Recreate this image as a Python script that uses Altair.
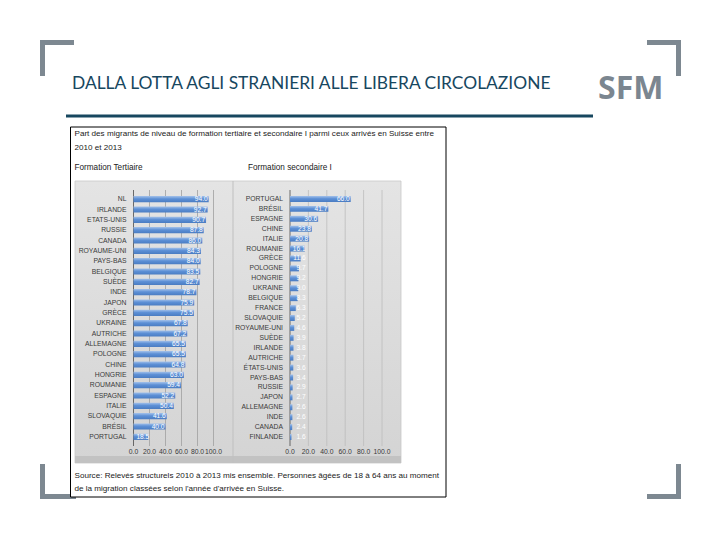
import altair as alt
import pandas as pd

# ---------------- data ----------------
ter_countries = ["NL", "IRLANDE", "ETATS-UNIS", "RUSSIE", "CANADA", "ROYAUME-UNI",
                 "PAYS-BAS", "BELGIQUE", "SUÈDE", "INDE", "JAPON", "GRÈCE",
                 "UKRAINE", "AUTRICHE", "ALLEMAGNE", "POLOGNE", "CHINE", "HONGRIE",
                 "ROUMANIE", "ESPAGNE", "ITALIE", "SLOVAQUIE", "BRÉSIL", "PORTUGAL"]
ter_values = [94.0, 92.7, 90.7, 87.8, 86.0, 84.3, 84.0, 83.5, 82.7, 78.7, 75.9, 75.5,
              67.8, 67.2, 65.5, 65.5, 64.8, 63.0, 59.4, 52.2, 50.4, 41.6, 40.0, 18.5]

sec_countries = ["PORTUGAL", "BRÉSIL", "ESPAGNE", "CHINE", "ITALIE", "ROUMANIE",
                 "GRÈCE", "POLOGNE", "HONGRIE", "UKRAINE", "BELGIQUE", "FRANCE",
                 "SLOVAQUIE", "ROYAUME-UNI", "SUÈDE", "IRLANDE", "AUTRICHE",
                 "ÉTATS-UNIS", "PAYS-BAS", "RUSSIE", "JAPON", "ALLEMAGNE", "INDE",
                 "CANADA", "FINLANDE"]
sec_values = [66.0, 41.7, 30.6, 23.8, 20.8, 16.1, 11.6, 9.7, 9.2, 9.0, 8.3, 6.3,
              5.2, 4.6, 3.9, 3.8, 3.7, 3.6, 3.4, 2.9, 2.7, 2.6, 2.6, 2.4, 1.6]

x_ticks = [0, 20, 40, 60, 80, 100]

slide_title = "DALLA LOTTA AGLI STRANIERI ALLE LIBERA CIRCOLAZIONE"
logo = "SFM"
chart_title_1 = "Part des migrants de niveau de formation tertiaire et secondaire I parmi ceux arrivés en Suisse entre"
chart_title_2 = "2010 et 2013"
panel_1 = "Formation Tertiaire"
panel_2 = "Formation secondaire I"
source_1 = "Source: Relevés structurels 2010 à 2013 mis ensemble. Personnes âgées de 18 à 64 ans au moment"
source_2 = "de la migration classées selon l'année d'arrivée en Suisse."

# ---------------- layout helpers ----------------
W, H = 704, 524
M = 8  # page margin


def px(v):
    return v - M


def py(v):
    return v - M


dummy = pd.DataFrame({"_": [0]})


def rect(x1, y1, x2, y2, fill, stroke=None, sw=0):
    kw = dict(fill=fill)
    if stroke:
        kw.update(stroke=stroke, strokeWidth=sw)
    return alt.Chart(dummy).mark_rect(**kw).encode(
        x=alt.value(px(x1)), x2=alt.value(px(x2)),
        y=alt.value(py(y1)), y2=alt.value(py(y2)))


def label(txt, x, y, size, color="#1a1a1a", font="Liberation Sans", weight="normal",
          align="left"):
    return alt.Chart(dummy).mark_text(
        text=txt, fontSize=size, font=font, fontWeight=weight, color=color,
        align=align, baseline="middle").encode(x=alt.value(px(x)), y=alt.value(py(y)))


GREY = "#7d8891"
TEAL = "#17475f"

decor = [
    # corner brackets
    rect(40, 40, 45, 76, GREY), rect(40, 40, 74, 45, GREY),
    rect(676, 40, 681, 76, GREY), rect(647, 40, 681, 45, GREY),
    rect(40, 464, 45, 499, GREY), rect(40, 494, 76, 499, GREY),
    rect(676, 464, 681, 499, GREY), rect(647, 494, 681, 499, GREY),
    # title underline
    rect(66, 114.5, 593, 117.5, TEAL),
    # embedded picture frame
    rect(70.5, 127, 446, 497, "#ffffff", "#000000", 1),
    # grey chart background
    rect(75, 181, 401, 463, alt.LinearGradient(
        gradient="linear", x1=0, y1=0, x2=0, y2=1,
        stops=[alt.GradientStop(color="#e4e4e4", offset=0),
               alt.GradientStop(color="#d4d4d4", offset=1)]),
        "#c8c8c8", 0.8),
    rect(75, 456, 401, 463, "#c2c2c2"),
    rect(232.5, 181, 233.5, 463, "#c0c0c0"),
]

texts = [
    label(slide_title, 72, 84, 17.4, TEAL, "Lato"),
    label(logo, 598, 89, 32, "#7b8690", "Open Sans", "bold"),
    label(chart_title_1, 74.5, 134, 8.1),
    label(chart_title_2, 74.5, 147.5, 8.1),
    label(panel_1, 74.5, 167.5, 8.2),
    label(panel_2, 248, 167.5, 8.2),
    label(source_1, 74.5, 475.5, 8.1),
    label(source_2, 74.5, 489, 8.1),
]

bar_fill = alt.LinearGradient(
    gradient="linear", x1=0, y1=0, x2=0, y2=1,
    stops=[alt.GradientStop(color="#a3c1ea", offset=0),
           alt.GradientStop(color="#5d90d6", offset=0.45),
           alt.GradientStop(color="#4a7cc2", offset=1)])

AXIS_COLOR = "#3a3a3a"


def panel(countries, values, x0, x1, y0, y1, lab_min, grid_color):
    df = pd.DataFrame({"pays": countries, "val": values})
    ticks = pd.DataFrame({"t": x_ticks})
    xs = alt.Scale(domain=[0, 100], range=[px(x0), px(x1)], nice=False, zero=True)
    ys = alt.Scale(domain=countries, range=[py(y0), py(y1)],
                   paddingInner=0.4, paddingOuter=0.2)
    tbase = alt.Chart(ticks)
    grid = tbase.mark_rule(strokeWidth=0.8).encode(
        x=alt.X("t:Q", scale=xs, axis=None),
        y=alt.value(py(190)), y2=alt.value(py(446)),
        color=alt.condition("datum.t == 0", alt.value("#4a4a4a"), alt.value(grid_color)))
    xlabels = tbase.mark_text(fontSize=6.8, font="Liberation Sans", color=AXIS_COLOR,
                              align="center", baseline="middle").encode(
        x=alt.X("t:Q", scale=xs, axis=None), y=alt.value(py(451.5)),
        text=alt.Text("t:Q", format=".1f"))
    base = alt.Chart(df)
    bars = base.mark_bar(fill=bar_fill).encode(
        x=alt.X("val:Q", scale=xs, axis=None),
        y=alt.Y("pays:N", scale=ys, axis=None))
    ylabels = base.mark_text(fontSize=6.8, font="Liberation Sans", color=AXIS_COLOR,
                             align="right", baseline="middle").encode(
        x=alt.value(px(x0 - 7)),
        y=alt.Y("pays:N", scale=ys, axis=None),
        text="pays:N")
    vals = base.transform_calculate(lab=f"max(datum.val, {lab_min})").mark_text(
        align="right", baseline="middle", dx=-1, color="white", fontSize=6.6,
        font="Liberation Sans").encode(
        x=alt.X("lab:Q", scale=xs, axis=None),
        y=alt.Y("pays:N", scale=ys, axis=None),
        text=alt.Text("val:Q", format=".1f"))
    return alt.layer(grid, bars, vals, ylabels, xlabels)


left = panel(ter_countries, ter_values, 133.5, 213.5, 194, 442, 21, "#a0a0a0")
right = panel(sec_countries, sec_values, 290, 382, 194, 442, 18, "#bcbcbc")

chart = alt.layer(*decor, left, right, *texts).resolve_scale(
    x="independent", y="independent").properties(
    width=W, height=H, autosize=alt.AutoSizeParams(type="none"), padding=0,
    background="white").configure_view(strokeWidth=0)

chart.save("out.html", embed_options={"renderer": "svg", "actions": False})
